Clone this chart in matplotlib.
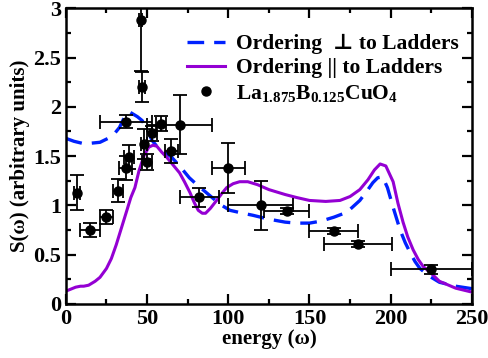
import matplotlib
matplotlib.use('Agg')
import matplotlib.pyplot as plt
from matplotlib.lines import Line2D
from matplotlib.ticker import MultipleLocator

plt.rcParams['font.family'] = ['Liberation Serif', 'DejaVu Serif']
plt.rcParams['font.weight'] = 'bold'
plt.rcParams['mathtext.fontset'] = 'custom'
plt.rcParams['mathtext.rm'] = 'Liberation Serif:bold'
plt.rcParams['mathtext.it'] = 'Liberation Serif:bold'
plt.rcParams['mathtext.bf'] = 'Liberation Serif:bold'

# theory curve, ordering perpendicular to ladders
perp_x = [0, 5, 10, 15, 21, 26, 30, 33, 35, 37, 39, 41, 44, 47, 50, 53, 56, 60, 65, 70,
          76, 80, 85, 90, 95, 101, 109, 115, 125, 135, 142, 150, 157, 165, 173, 181,
          186, 189, 192, 195, 198, 201.5, 205.8, 209, 212, 215, 218, 224, 230, 240, 250]
perp_y = [1.68, 1.65, 1.63, 1.63, 1.64, 1.68, 1.73, 1.79, 1.86, 1.92, 1.95, 1.93, 1.90,
          1.86, 1.77, 1.66, 1.60, 1.55, 1.49, 1.40, 1.28, 1.22, 1.15, 1.08, 1.01, 0.95,
          0.92, 0.90, 0.86, 0.83, 0.82, 0.82, 0.84, 0.88, 0.93, 1.05, 1.16, 1.23, 1.28,
          1.29, 1.18, 0.98, 0.75, 0.62, 0.52, 0.43, 0.36, 0.28, 0.22, 0.18, 0.155]

# theory curve, ordering parallel to ladders
par_x = [0, 3, 6, 9, 11, 14, 18, 21, 25, 28, 31, 34, 37, 40, 42.5, 45, 48, 51, 53.6, 56,
         59, 62, 66, 70, 73, 76.4, 79, 81.5, 84, 86, 89, 92.8, 96, 99, 103, 107, 112, 118,
         125, 135, 142, 150, 160, 168.8, 175, 181, 186, 190, 193.5, 197, 201.5, 204.5,
         207.6, 210.5, 213.8, 217, 220, 225, 230, 240, 250]
par_y = [0.13, 0.15, 0.17, 0.18, 0.18, 0.19, 0.23, 0.27, 0.36, 0.46, 0.60, 0.76, 0.92,
         1.08, 1.18, 1.35, 1.50, 1.59, 1.61, 1.60, 1.54, 1.49, 1.41, 1.33, 1.24, 1.13,
         1.03, 0.95, 0.92, 0.92, 0.97, 1.05, 1.12, 1.18, 1.22, 1.24, 1.24, 1.21, 1.16,
         1.11, 1.08, 1.05, 1.04, 1.05, 1.09, 1.16, 1.26, 1.36, 1.42, 1.40, 1.24, 1.02,
         0.83, 0.68, 0.55, 0.45, 0.38, 0.31, 0.23, 0.16, 0.12]

# measured data
data_x = [7, 15, 25, 32, 37, 39, 37, 46, 47, 48, 50, 53, 58.5, 65, 70, 82, 100, 120,
          136, 165, 180, 225]
data_y = [1.13, 0.75, 0.88, 1.15, 1.38, 1.49, 1.85, 2.88, 2.2, 1.62, 1.44, 1.73, 1.83,
          1.55, 1.82, 1.08, 1.38, 1.0, 0.94, 0.74, 0.61, 0.35]
data_xerr = [2, 6, 4, 3, 4, 3, 16, 1, 2, 2, 3, 3, 3, 4, 20, 12, 10, 20, 14, 15, 21, 25]
data_yerr = [0.18, 0.07, 0.07, 0.12, 0.12, 0.12, 0.07, 0.52, 0.15, 0.15, 0.08, 0.08,
             0.08, 0.12, 0.3, 0.1, 0.25, 0.25, 0.03, 0.03, 0.03, 0.05]

fig = plt.figure(figsize=(4.88, 3.58), dpi=100)
ax = fig.add_axes([0.135, 0.151, 0.832, 0.826])

l1, = ax.plot(perp_x, perp_y, color='#0022ff', lw=2.4, dashes=(5, 3))
l2, = ax.plot(par_x, par_y, color='#9400d3', lw=2.2)
ax.errorbar(data_x, data_y, xerr=data_xerr, yerr=data_yerr, fmt='o', color='black',
            ms=6.5, elinewidth=1.3, capsize=5, capthick=1.3)
dot = Line2D([], [], ls='none', marker='o', color='black', ms=6.5)

ax.set_xlim(0, 250)
ax.set_ylim(0, 3)
ax.xaxis.set_major_locator(MultipleLocator(50))
ax.xaxis.set_minor_locator(MultipleLocator(25))
ax.yaxis.set_major_locator(MultipleLocator(0.5))
ax.yaxis.set_minor_locator(MultipleLocator(0.25))
ax.yaxis.set_major_formatter(plt.FuncFormatter(lambda v, p: f'{v:g}'))
ax.tick_params(which='both', direction='in', top=True, right=True, width=1.6)
ax.tick_params(which='major', length=7, labelsize=16)
ax.tick_params(which='minor', length=3.5)
for s in ax.spines.values():
    s.set_linewidth(1.8)

ax.set_xlabel('energy (ω)', fontsize=15, fontweight='bold', labelpad=0)
ax.set_ylabel('S(ω) (arbitrary units)', fontsize=15, fontweight='bold', labelpad=2)

ax.legend([l1, l2, dot],
          ['Ordering  ⊥ to Ladders', 'Ordering || to Ladders',
           r'La$_{1.875}$B$_{0.125}$CuO$_4$'],
          loc='upper left', bbox_to_anchor=(0.298, 0.913), frameon=False,
          handlelength=1.75, handletextpad=0.55, labelspacing=0.2,
          borderaxespad=0, borderpad=0, prop={'weight': 'bold', 'size': 15.5})

fig.savefig('out.png', dpi=100)
